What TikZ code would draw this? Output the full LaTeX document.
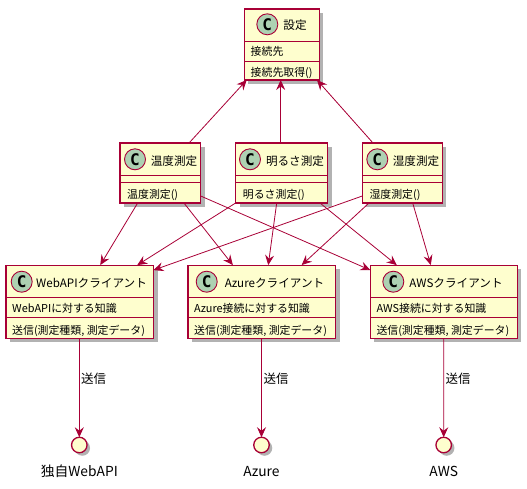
\documentclass[tikz,border=0pt]{standalone}
\usepackage{xcolor}
\usepackage{fontspec}
\setmainfont{Noto Sans CJK JP}
\newfontfamily\markfont{DejaVu Sans Mono}
\usetikzlibrary{arrows.meta,shadows}
\definecolor{umlline}{HTML}{A80036}
\definecolor{umlfill}{HTML}{FEFECE}
\definecolor{umlmark}{HTML}{ADD1B2}
\tikzset{
  classbody/.style={draw=umlline, line width=1.1pt, fill=umlfill, inner sep=0pt, outer sep=0pt,
    drop shadow={shadow xshift=4pt, shadow yshift=-4pt, fill=black, opacity=.3}},
  classline/.style={draw=umlline, line width=.9pt},
  classmark/.style={circle, draw=umlline, line width=.9pt, fill=umlmark, minimum size=21pt, inner sep=0pt,
    font=\markfont\bfseries\fontsize{16}{16}\selectfont},
  classtitle/.style={inner sep=0pt, text height=13.5pt, text depth=2.5pt, font=\fontsize{11.6}{13}\selectfont},
  classtext/.style={anchor=west, inner sep=0pt, text height=13pt, text depth=2.5pt, font=\fontsize{10.9}{13}\selectfont},
  conn/.style={draw=umlline, line width=.8pt, -{Stealth[length=10pt, width=9pt, inset=3.5pt]}},
  port/.style={circle, draw=umlline, line width=1.3pt, fill=umlfill, minimum size=15.5pt, inner sep=0pt, outer sep=0pt,
    drop shadow={shadow xshift=3pt, shadow yshift=-3pt, fill=black, opacity=.3}},
  portname/.style={inner sep=0pt, text height=15pt, text depth=3pt, font=\fontsize{13.8}{15}\selectfont},
  sendlabel/.style={anchor=west, inner sep=0pt, text height=14pt, text depth=2.5pt, font=\fontsize{12.5}{14}\selectfont},
}
\begin{document}
\begin{tikzpicture}[x=1pt,y=-1pt]
\useasboundingbox (0,0) rectangle (527,488);
% Settings
\node[classbody, minimum width=74.7pt, minimum height=71pt] (setting) at (281.7,44.5) {};
\draw[classline] ([yshift=-32pt]setting.north west) -- ([yshift=-32pt]setting.north east);
\draw[classline] ([yshift=-52pt]setting.north west) -- ([yshift=-52pt]setting.north east);
\node[classmark] (setting-c) at (267.3,24.3) {C};
\node[classtitle] (setting-t) at (295,24.3) {設定};
\node[classtext] (setting-f) at (250.5,50.5) {接続先};
\node[classtext] (setting-m) at (250.5,71) {接続先取得()};
% Measurements
\foreach \name/\lft/\rgt/\cx/\tx/\title in {
  temp/120/200.7/135/174/温度測定,
  light/235.7/327.5/250/295/明るさ測定,
  humid/362.3/442.3/377.3/416/湿度測定} {
  \node[classbody, minimum width=\rgt pt-\lft pt, minimum height=60pt] (\name) at ({(\lft+\rgt)/2},173) {};
  \draw[classline] ([yshift=-32pt]\name.north west) -- ([yshift=-32pt]\name.north east);
  \draw[classline] ([yshift=-39.7pt]\name.north west) -- ([yshift=-39.7pt]\name.north east);
  \node[classmark] (\name-c) at (\cx,159.3) {C};
  \node[classtitle] (\name-t) at (\tx,159.5) {\title};
  \node[classtext] (\name-m) at ({\lft+7},193.3) {\title()};
}
% Clients
\foreach \name/\lft/\rgt/\cx/\tx/\title/\field in {
  webapi/6/153.5/21.7/91.5/WebAPIクライアント/WebAPIに対する知識,
  azure/188/335.7/206.7/274.5/Azureクライアント/Azure接続に対する知識,
  aws/370.3/517.3/393.3/456/AWSクライアント/AWS接続に対する知識} {
  \node[classbody, minimum width=\rgt pt-\lft pt, minimum height=73pt] (\name) at ({(\lft+\rgt)/2},301.6) {};
  \draw[classline] ([yshift=-32pt]\name.north west) -- ([yshift=-32pt]\name.north east);
  \draw[classline] ([yshift=-52pt]\name.north west) -- ([yshift=-52pt]\name.north east);
  \node[classmark] (\name-c) at (\cx,281.7) {C};
  \node[classtitle] (\name-t) at (\tx,281.7) {\title};
  \node[classtext] (\name-f) at ({\lft+6},307.7) {\field};
  \node[classtext] (\name-m) at ({\lft+6},329) {送信(測定種類, 測定データ)};
}
% Interfaces
\node[port] (web-port) at (79.3,445) {};
\node[portname] (web-name) at (79.3,470.7) {独自WebAPI};
\node[port] (azure-port) at (261.5,445) {};
\node[portname] (azure-name) at (261.5,470.7) {Azure};
\node[port] (aws-port) at (443.7,445) {};
\node[portname] (aws-name) at (443.7,470.7) {AWS};
% Uses of the settings
\draw[conn] ([xshift=28.7pt]temp.north) -- ([xshift=-35pt]setting.south);
\draw[conn] ([xshift=-0.9pt]light.north) -- ([xshift=-1pt]setting.south);
\draw[conn] ([xshift=-29.3pt]humid.north) -- ([xshift=35.3pt]setting.south);
% Temperature
\draw[conn] ([xshift=-22.7pt]temp.south) -- ([xshift=20.5pt]webapi.north);
\draw[conn] ([xshift=23.6pt]temp.south) -- ([xshift=-29pt]azure.north);
\draw[conn] ([yshift=-53pt]temp.north east) -- ([yshift=-5pt]aws.north west);
% Brightness
\draw[conn] ([xshift=-46pt]light.south) -- ([xshift=57.5pt]webapi.north);
\draw[conn] ([xshift=-4.9pt]light.south) -- ([xshift=6.4pt]azure.north);
\draw[conn] ([xshift=38.4pt]light.south) -- ([xshift=-47pt]aws.north);
% Humidity
\draw[conn] ([yshift=-53pt]humid.north west) -- ([yshift=-5pt]webapi.north east);
\draw[conn] ([xshift=-33.3pt]humid.south) -- ([xshift=39.8pt]azure.north);
\draw[conn] ([xshift=10.4pt]humid.south) -- ([xshift=-13pt]aws.north);
% Sending
\draw[conn] ([xshift=-0.45pt]webapi.south) -- (web-port);
\draw[conn] ([xshift=-0.35pt]azure.south) -- (azure-port);
\draw[conn] (aws.south) -- (aws-port);
\node[sendlabel] (web-send) at (81,378) {送信};
\node[sendlabel] (azure-send) at (263.3,378) {送信};
\node[sendlabel] (aws-send) at (445.5,378) {送信};
\end{tikzpicture}
\end{document}
